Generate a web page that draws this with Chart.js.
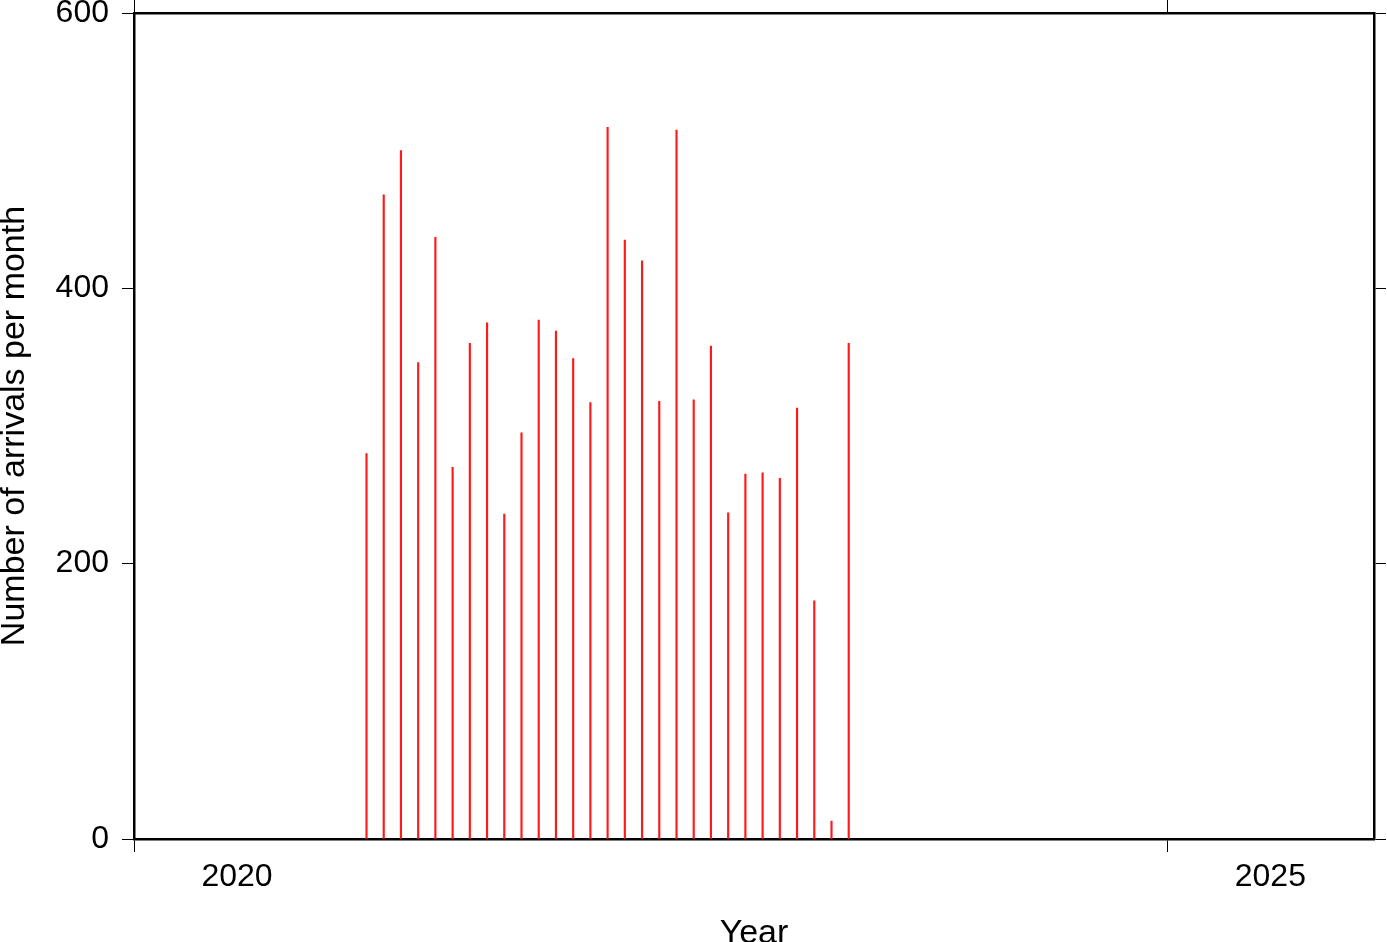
<!DOCTYPE html>
<html>
<head>
<meta charset="utf-8">
<script src="https://cdn.jsdelivr.net/npm/chart.js@4"></script>
<style>
  body { margin: 0; background: #fff; }
  canvas { display: block; }
</style>
</head>
<body>
<canvas id="arrivalsChart" width="1387" height="942"></canvas>
<script>
// monthly arrivals, bars sit at the middle of each month
const months = ['2021-02', '2021-03', '2021-04', '2021-05', '2021-06', '2021-07', '2021-08', '2021-09',
  '2021-10', '2021-11', '2021-12', '2022-01', '2022-02', '2022-03', '2022-04', '2022-05', '2022-06',
  '2022-07', '2022-08', '2022-09', '2022-10', '2022-11', '2022-12', '2023-01', '2023-02', '2023-03',
  '2023-04', '2023-05', '2023-06'];
const arrivals = [280, 468, 500, 346, 437, 270, 360, 375, 236, 295, 377, 369, 349, 317, 517, 435, 420,
  318, 515, 319, 358, 237, 265, 266, 262, 313, 173, 13, 360];
const yearTicks = [2020, 2025];
const countTicks = [0, 200, 400, 600];

const FONT = "'Liberation Sans', Arial, Helvetica, sans-serif";

function toDecimalYear(m) {
  const [y, mo] = m.split('-').map(Number);
  return y + (mo - 0.5) / 12;
}

const points = months.map((m, i) => ({ x: toDecimalYear(m), y: arrivals[i] }));

function setTicks(values) {
  return function (scale) {
    scale.ticks = values.map(v => ({ value: v }));
  };
}

// force the frame to sit where the reference has it
function fixSize(prop, size) {
  return function (scale) {
    scale[prop] = size;
    scale.paddingTop = 0;
    scale.paddingBottom = 0;
    scale.paddingLeft = 0;
    scale.paddingRight = 0;
  };
}

const tickGrid = { drawOnChartArea: false, drawTicks: true, tickLength: 12, color: '#000', lineWidth: 1 };
const frame = { display: true, color: '#000', width: 2.5 };

new Chart(document.getElementById('arrivalsChart').getContext('2d'), {
  type: 'bar',
  data: {
    datasets: [{
      data: points,
      backgroundColor: '#ff1a1a',
      borderWidth: 0,
      barThickness: 1.5
    }]
  },
  options: {
    responsive: false,
    animation: false,
    layout: { padding: 0 },
    plugins: { legend: { display: false }, tooltip: { enabled: false } },
    scales: {
      x: {
        type: 'linear', position: 'bottom', min: 2020, max: 2026, offset: false,
        grid: Object.assign({}, tickGrid, { offset: false, tickLength: 13 }),
        border: frame,
        afterBuildTicks: setTicks(yearTicks),
        afterFit: fixSize('height', 103),
        ticks: {
          autoSkip: false, maxRotation: 0, padding: 6, labelOffset: 103,
          color: '#000', font: { family: FONT, size: 32 },
          callback: v => String(v)
        },
        title: {
          display: true, text: 'Year', color: '#000',
          font: { family: FONT, size: 34, lineHeight: 1 },
          padding: { top: 0, bottom: -9 }
        }
      },
      x2: {
        type: 'linear', position: 'top', min: 2020, max: 2026, offset: false,
        grid: Object.assign({}, tickGrid, { offset: false, tickLength: 13 }),
        border: frame,
        afterBuildTicks: setTicks(yearTicks),
        afterFit: fixSize('height', 13),
        ticks: { display: false }
      },
      y: {
        position: 'left', min: 0, max: 600,
        grid: tickGrid,
        border: frame,
        afterBuildTicks: setTicks(countTicks),
        afterFit: fixSize('width', 134),
        ticks: { padding: 13, color: '#000', font: { family: FONT, size: 32 } },
        title: {
          display: true, text: 'Number of arrivals per month', color: '#000',
          font: { family: FONT, size: 34, lineHeight: 1 },
          padding: { top: -2, bottom: 0 }
        }
      },
      y2: {
        position: 'right', min: 0, max: 600,
        grid: tickGrid,
        border: frame,
        afterBuildTicks: setTicks(countTicks),
        afterFit: fixSize('width', 13),
        ticks: { display: false }
      }
    }
  }
});
</script>
</body>
</html>
